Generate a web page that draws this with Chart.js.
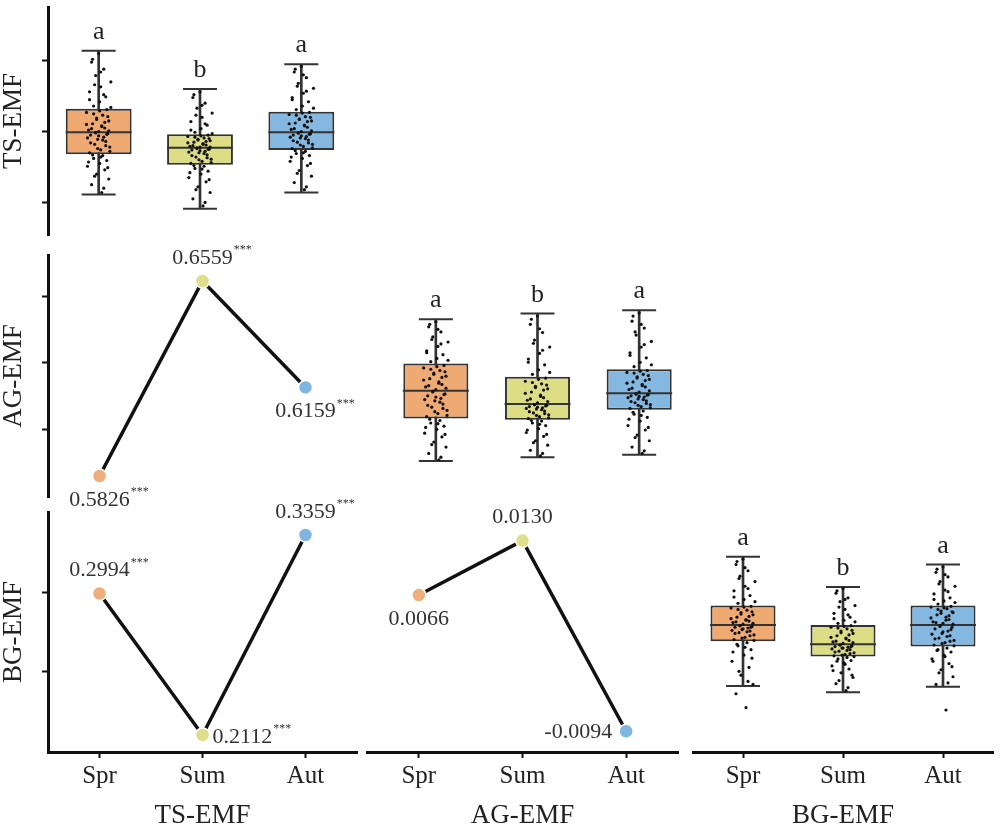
<!DOCTYPE html>
<html>
<head>
<meta charset="utf-8">
<script src="https://cdn.jsdelivr.net/npm/chart.js@4.4.0/dist/chart.umd.min.js"></script>
<style>
  html, body { margin: 0; padding: 0; background: #fff; }
  body { width: 1000px; height: 826px; position: relative; overflow: hidden; }
  canvas { position: absolute; }
</style>
</head>
<body>
<script>
// ---- data ----
const seasons = ["Spr", "Sum", "Aut"];
const groups = ["TS-EMF", "AG-EMF", "BG-EMF"];
const boxColors = ["#EFAA73", "#DDDD86", "#84B8E0"];
const dotColors = ["#EEAE7E", "#DEDE8C", "#7FB5E0"];

// box stats per season: [whisker low, Q1, median, Q3, whisker high] (axis units, unlabelled)
const tsBox = [[1.11, 1.68, 1.99, 2.32, 3.14], [0.91, 1.53, 1.77, 1.96, 2.60], [1.14, 1.74, 1.99, 2.28, 2.95]];
const agBox = [[0.46, 1.13, 1.57, 2.00, 2.70], [0.52, 1.11, 1.36, 1.79, 2.79], [0.56, 1.27, 1.53, 1.91, 2.84]];
const bgBox = [[0.84, 1.42, 1.63, 1.88, 2.51], [0.76, 1.22, 1.38, 1.63, 2.12], [0.83, 1.35, 1.63, 1.88, 2.41]];
const tsLetters = ["a", "b", "a"];
const agLetters = ["a", "b", "a"];
const bgLetters = ["a", "b", "a"];
const tsTicks = [1, 2, 3];
const agTicks = [1, 2, 3];
const bgTicks = [1, 2];

// sample values (jittered dots)
const tsSpr = [1.14,1.25,1.33,1.40,1.46,1.51,1.55,1.59,1.62,1.66, 1.70,1.74,1.78,1.82,1.86,1.89,1.92,1.95,1.97,1.98,
               2.00,2.02,2.05,2.08,2.11,2.15,2.19,2.23,2.27,2.31, 2.36,2.42,2.49,2.56,2.63,2.70,2.79,2.88,2.98,3.10,
               1.20,1.37,1.49,1.57,1.64,1.67, 1.72,1.76,1.80,1.84,1.88,1.91,1.94,1.96,1.99, 2.01,2.04,2.07,2.10,2.13,
               2.17,2.21,2.25,2.29, 2.34,2.45,2.52,2.66,2.84,3.02];
const tsSum = [0.95,1.05,1.14,1.22,1.29,1.35,1.40,1.44,1.48,1.51, 1.55,1.58,1.61,1.64,1.67,1.70,1.72,1.74,1.75,1.76,
               1.78,1.79,1.81,1.83,1.85,1.87,1.89,1.91,1.93,1.95, 1.99,2.04,2.09,2.14,2.20,2.26,2.33,2.40,2.48,2.56,
               1.00,1.18,1.32,1.42,1.47,1.52, 1.56,1.60,1.63,1.66,1.69,1.71,1.73,1.75,1.77, 1.78,1.80,1.82,1.84,1.86,
               1.88,1.90,1.92,1.94, 1.97,2.02,2.11,2.23,2.37,2.52];
const tsAut = [1.18,1.28,1.37,1.45,1.52,1.58,1.62,1.66,1.69,1.72, 1.76,1.79,1.82,1.85,1.88,1.91,1.93,1.95,1.97,1.98,
               2.00,2.03,2.06,2.09,2.12,2.15,2.18,2.21,2.24,2.27, 2.31,2.36,2.42,2.48,2.54,2.61,2.68,2.76,2.84,2.92,
               1.22,1.41,1.55,1.64,1.70,1.73, 1.77,1.81,1.84,1.87,1.90,1.92,1.94,1.96,1.98, 2.01,2.04,2.08,2.11,2.14,
               2.17,2.20,2.23,2.26, 2.33,2.45,2.57,2.64,2.80,2.88];
const agSpr = [0.48,0.58,0.68,0.76,0.84,0.90,0.96,1.01,1.06,1.10, 1.16,1.21,1.26,1.31,1.36,1.41,1.45,1.49,1.52,1.55,
               1.59,1.63,1.67,1.71,1.76,1.80,1.85,1.89,1.93,1.97, 2.03,2.08,2.14,2.20,2.27,2.34,2.42,2.50,2.58,2.66,
               0.52,0.72,0.88,0.99,1.05,1.12, 1.18,1.24,1.29,1.34,1.39,1.43,1.47,1.51,1.56, 1.61,1.65,1.69,1.74,1.78,
               1.83,1.87,1.91,1.95, 2.05,2.17,2.31,2.38,2.54,2.62];
const agSum = [0.54,0.63,0.71,0.78,0.85,0.91,0.97,1.02,1.06,1.09, 1.13,1.16,1.19,1.22,1.25,1.28,1.30,1.32,1.34,1.35,
               1.38,1.42,1.46,1.50,1.55,1.60,1.64,1.68,1.72,1.77, 1.83,1.90,1.98,2.07,2.16,2.26,2.37,2.49,2.62,2.75,
               0.58,0.75,0.88,0.95,1.04,1.10, 1.14,1.18,1.21,1.24,1.27,1.29,1.31,1.33,1.35, 1.40,1.44,1.48,1.53,1.58,
               1.62,1.66,1.70,1.75, 1.86,2.02,2.21,2.32,2.55,2.70];
const agAut = [0.58,0.68,0.78,0.87,0.95,1.02,1.09,1.15,1.20,1.25, 1.29,1.32,1.35,1.38,1.41,1.44,1.47,1.49,1.51,1.52,
               1.55,1.59,1.63,1.67,1.71,1.75,1.79,1.83,1.86,1.89, 1.95,2.02,2.09,2.17,2.26,2.35,2.45,2.56,2.67,2.80,
               0.62,0.83,0.99,1.12,1.18,1.23, 1.30,1.34,1.37,1.40,1.43,1.46,1.48,1.50,1.52, 1.57,1.61,1.65,1.69,1.73,
               1.77,1.81,1.85,1.88, 1.98,2.13,2.30,2.50,2.62,2.75];
const bgSpr = [0.56,0.74,0.86,0.98,1.08,1.16,1.24,1.31,1.36,1.40, 1.44,1.47,1.50,1.53,1.55,1.57,1.59,1.60,1.61,1.62,
               1.64,1.66,1.68,1.70,1.73,1.76,1.79,1.82,1.85,1.87, 1.91,1.96,2.01,2.07,2.13,2.19,2.26,2.33,2.41,2.48,
               0.90,1.03,1.20,1.28,1.34,1.38, 1.43,1.46,1.49,1.52,1.54,1.56,1.58,1.60,1.62, 1.65,1.67,1.69,1.71,1.74,
               1.77,1.80,1.83,1.86, 1.93,1.99,2.10,2.23,2.37,2.45];
const bgSum = [0.78,0.87,0.95,1.01,1.06,1.10,1.14,1.17,1.19,1.21, 1.23,1.25,1.27,1.29,1.31,1.33,1.34,1.35,1.36,1.37,
               1.39,1.41,1.43,1.46,1.49,1.52,1.55,1.58,1.60,1.62, 1.65,1.69,1.73,1.78,1.83,1.88,1.93,1.98,2.04,2.10,
               0.82,0.91,0.98,1.04,1.12,1.16, 1.22,1.24,1.26,1.28,1.30,1.32,1.33,1.35,1.37, 1.40,1.42,1.45,1.47,1.50,
               1.53,1.56,1.59,1.61, 1.67,1.71,1.76,1.86,1.96,2.07];
const bgAut = [0.53,0.86,0.96,1.05,1.13,1.19,1.24,1.28,1.31,1.33, 1.37,1.40,1.43,1.46,1.49,1.52,1.55,1.58,1.60,1.62,
               1.65,1.67,1.70,1.73,1.76,1.79,1.81,1.84,1.86,1.87, 1.90,1.94,1.98,2.03,2.08,2.13,2.19,2.25,2.31,2.38,
               0.88,1.01,1.09,1.16,1.22,1.30, 1.36,1.39,1.42,1.45,1.48,1.51,1.54,1.57,1.61, 1.64,1.66,1.69,1.72,1.75,
               1.78,1.80,1.83,1.85, 1.92,1.96,2.06,2.16,2.28,2.35];
// horizontal jitter of each dot, in category widths
const jitter = [0.03,-0.07,0.10,-0.02,0.06,-0.11,0.01,0.08,-0.05,0.04, -0.09,0.02,0.11,-0.04,0.07,-0.01,0.05,-0.08,0.09,-0.03,
                0.00,-0.10,0.06,0.03,-0.06,0.10,-0.02,0.04,-0.12,0.08, -0.05,0.01,0.07,-0.09,0.02,0.12,-0.03,0.05,-0.07,0.00,
                0.05,-0.04,0.09,-0.10,0.02,-0.06,0.11,-0.01,0.07,-0.08, 0.04,-0.11,0.00,0.08,-0.03,0.10,-0.07,0.03,-0.12,0.06,
                -0.02,0.09,-0.05,0.01,0.12,-0.09,0.05,-0.04,0.02,-0.06];

// correlation coefficients per season
const agTs = [0.5826, 0.6559, 0.6159];
const agTsSig = ["***", "***", "***"];
const bgTs = [0.2994, 0.2112, 0.3359];
const bgTsSig = ["***", "***", "***"];
const bgAg = [0.0066, 0.0130, -0.0094];
const bgAgSig = ["", "", ""];

// ---- drawing ----
const SERIF = "'Liberation Serif', 'DejaVu Serif', serif";
const INK = "#333";
const M = 30;

function makeCanvas(area, yAxis, xAxis) {
  const LY = yAxis ? 48 : 0, HX = xAxis ? 80 : 0;
  const padL = yAxis ? 0 : M, padB = xAxis ? 4 : M;
  const cv = document.createElement("canvas");
  cv.width = padL + LY + (area.r - area.l) + M;
  cv.height = M + (area.b - area.t) + HX + padB;
  cv.style.left = (area.l - LY - padL) + "px";
  cv.style.top = (area.t - M) + "px";
  document.body.appendChild(cv);
  return { cv, padding: { left: padL, right: M, top: M, bottom: padB } };
}

function yAxisOpts(range, ticks, title) {
  return {
    type: "linear", min: range[0], max: range[1], display: !!title,
    afterBuildTicks: s => { s.ticks = ticks.map(v => ({ value: v })); },
    afterFit: s => { s.width = title ? 48 : 0; },
    ticks: { display: false },
    grid: { drawOnChartArea: false, drawTicks: true, tickLength: 6, tickWidth: 2, color: "#111" },
    border: { display: true, width: 3, color: "#111" },
    title: { display: !!title, text: title || "", padding: 0, color: "#222",
             font: { family: SERIF, size: 27, lineHeight: 1 } }
  };
}

function xAxisOpts(title) {
  return {
    type: "category", labels: seasons, offset: true, display: !!title,
    afterFit: s => { s.height = title ? 80 : 0; },
    ticks: { padding: 3, color: "#222", font: { family: SERIF, size: 25 } },
    grid: { drawOnChartArea: false, offset: false, tickLength: 6, tickWidth: 2, color: "#111" },
    border: { display: true, width: 3, color: "#111" },
    title: { display: !!title, text: title || "", padding: { top: 0, bottom: 0 }, color: "#222",
             font: { family: SERIF, size: 27, lineHeight: 1.2 } }
  };
}

const baseOpts = padding => ({
  responsive: false, animation: false, devicePixelRatio: 1,
  layout: { padding },
  plugins: { legend: { display: false }, tooltip: { enabled: false } }
});

function boxChart(area, stats, raws, letters, yRange, yTicks, yTitle, xTitle, barPct) {
  const { cv, padding } = makeCanvas(area, !!yTitle, !!xTitle);
  const dots = [];
  raws.forEach((vals, i) => vals.forEach((v, k) => dots.push({ x: i + jitter[k % jitter.length], y: v })));
  new Chart(cv, {
    type: "bar",
    data: {
      labels: seasons,
      datasets: [
        { type: "scatter", xAxisID: "xj", data: dots, pointRadius: 1.6, pointBackgroundColor: "#111",
          pointBorderWidth: 0, order: 0 },
        { type: "scatter", xAxisID: "xj", data: stats.map((s, i) => ({ x: i, y: s[2] })), pointStyle: "line",
          pointRadius: 33, pointBorderColor: INK, pointBorderWidth: 2, order: 1 },
        { type: "bar", xAxisID: "x", data: stats.map(s => [s[1], s[3]]), backgroundColor: boxColors,
          borderColor: INK, borderWidth: 2, borderSkipped: false, barPercentage: barPct,
          categoryPercentage: 1, grouped: false, order: 2 },
        { type: "bar", xAxisID: "x", data: stats.map(s => [s[0], s[4]]), backgroundColor: INK,
          barThickness: 2, grouped: false, order: 3 },
        { type: "scatter", xAxisID: "xj", data: stats.flatMap((s, i) => [{ x: i, y: s[0] }, { x: i, y: s[4] }]),
          pointStyle: "line", pointRadius: 17, pointBorderColor: INK, pointBorderWidth: 2, order: 3 }
      ]
    },
    options: Object.assign(baseOpts(padding), {
      scales: {
        x: xAxisOpts(xTitle),
        xj: { type: "linear", display: false, offset: false, min: -0.5, max: 2.5 },
        y: yAxisOpts(yRange, yTicks, yTitle)
      }
    }),
    plugins: [{
      id: "letters",
      afterDatasetsDraw(chart) {
        const { ctx, scales } = chart;
        ctx.save();
        ctx.font = "26px " + SERIF; ctx.fillStyle = "#222";
        ctx.textAlign = "center"; ctx.textBaseline = "alphabetic";
        letters.forEach((t, i) =>
          ctx.fillText(t, scales.xj.getPixelForValue(i), scales.y.getPixelForValue(stats[i][4]) - 12));
        ctx.restore();
      }
    }]
  });
}

function corrChart(area, vals, sig, place, rRange, yRange, yTicks, yTitle, xTitle) {
  const { cv, padding } = makeCanvas(area, !!yTitle, !!xTitle);
  new Chart(cv, {
    type: "line",
    data: {
      labels: seasons,
      datasets: [{ data: vals, yAxisID: "yr", borderColor: "#111", borderWidth: 3.5, tension: 0,
                   pointRadius: 7, pointBackgroundColor: dotColors, pointBorderColor: "#fff",
                   pointBorderWidth: 1.5, clip: false }]
    },
    options: Object.assign(baseOpts(padding), {
      scales: {
        x: xAxisOpts(xTitle),
        y: yAxisOpts(yRange, yTicks, yTitle),
        yr: { type: "linear", axis: "y", display: false, min: rRange[0], max: rRange[1] }
      }
    }),
    plugins: [{
      id: "corrLabels",
      afterDatasetsDraw(chart) {
        const ctx = chart.ctx, pts = chart.getDatasetMeta(0).data;
        const numFont = "22px " + SERIF, starFont = "12px " + SERIF;
        ctx.save();
        ctx.fillStyle = INK; ctx.textBaseline = "middle"; ctx.textAlign = "left";
        pts.forEach((p, i) => {
          const num = vals[i].toFixed(4);
          ctx.font = numFont; const wn = ctx.measureText(num).width;
          ctx.font = starFont; const ws = sig[i] ? ctx.measureText(sig[i]).width : 0;
          let x0, y;
          if (place[i] === "above") { x0 = p.x - wn / 2; y = p.y - 23; }
          else if (place[i] === "below") { x0 = p.x - wn / 2; y = p.y + 24; }
          else if (place[i] === "right") { x0 = p.x + 10; y = p.y + 2; }
          else { x0 = p.x - 14 - wn - ws; y = p.y + 1; }
          ctx.font = numFont; ctx.fillText(num, x0, y);
          if (sig[i]) { ctx.font = starFont; ctx.fillText(sig[i], x0 + wn + 1, y - 8); }
        });
        ctx.restore();
      }
    }]
  });
}

// row 1
boxChart({ l: 48, r: 357, t: 2, b: 240 }, tsBox, [tsSpr, tsSum, tsAut], tsLetters,
         [0.54, 3.757], tsTicks, groups[0], null, 0.65);
// row 2
corrChart({ l: 48, r: 357, t: 255, b: 497 }, agTs, agTsSig, ["below", "above", "below"],
          [0.57471, 0.66567], [-0.03, 3.636], agTicks, groups[1], null);
boxChart({ l: 380, r: 695, t: 255, b: 497 }, agBox, [agSpr, agSum, agAut], agLetters,
         [-0.03, 3.636], agTicks, null, null, 0.64);
// row 3
corrChart({ l: 48, r: 357, t: 512, b: 752 }, bgTs, bgTsSig, ["above", "right", "above"],
          [0.2006, 0.35024], [-0.013, 3.025], bgTicks, groups[2], groups[0]);
corrChart({ l: 367, r: 678, t: 512, b: 752 }, bgAg, bgAgSig, ["below", "above", "left"],
          [-0.01184, 0.01636], [-0.013, 3.025], bgTicks, null, groups[1]);
boxChart({ l: 688, r: 998, t: 512, b: 752 }, bgBox, [bgSpr, bgSum, bgAut], bgLetters,
         [-0.013, 3.025], bgTicks, null, groups[2], 0.65);
</script>
</body>
</html>
